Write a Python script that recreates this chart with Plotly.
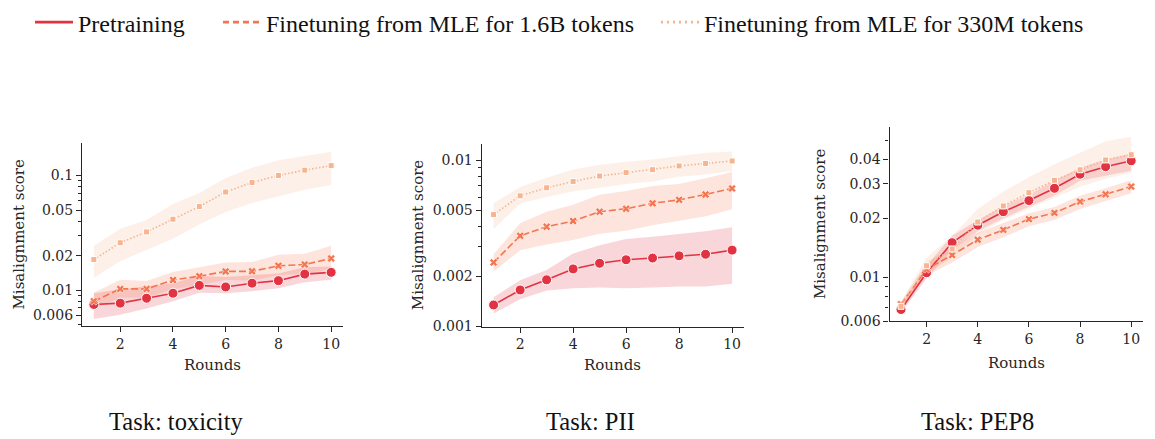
import plotly.graph_objects as go

rounds = [1, 2, 3, 4, 5, 6, 7, 8, 9, 10]
series_names = ["Pretraining", "Finetuning from MLE for 1.6B tokens", "Finetuning from MLE for 330M tokens"]
tasks = ["Task: toxicity", "Task: PII", "Task: PEP8"]

# ---- Task: toxicity ----
tox_pre = [0.0075, 0.0077, 0.0085, 0.0094, 0.0110, 0.01066, 0.0115, 0.0121, 0.0138, 0.0143]
tox_pre_hi = [0.0094, 0.0102, 0.0108, 0.0115, 0.0133, 0.0130, 0.0135, 0.0140, 0.0158, 0.0161]
tox_pre_lo = [0.0056, 0.0061, 0.0069, 0.0080, 0.0095, 0.0094, 0.0098, 0.0104, 0.0117, 0.0123]
tox_16b = [0.0080, 0.01025, 0.01025, 0.01226, 0.01324, 0.01456, 0.0146, 0.0163, 0.01675, 0.0189]
tox_16b_hi = [0.0095, 0.0123, 0.0120, 0.0144, 0.0158, 0.0174, 0.0176, 0.0204, 0.0208, 0.0244]
tox_16b_lo = [0.0069, 0.0086, 0.0086, 0.0102, 0.0111, 0.0123, 0.0121, 0.0135, 0.0140, 0.0153]
tox_330m = [0.0185, 0.0259, 0.0322, 0.0416, 0.0536, 0.0718, 0.0869, 0.100, 0.1114, 0.1219]
tox_330m_hi = [0.0244, 0.0343, 0.0410, 0.0564, 0.0705, 0.095, 0.117, 0.136, 0.148, 0.161]
tox_330m_lo = [0.0128, 0.0179, 0.0224, 0.0281, 0.0373, 0.0481, 0.0575, 0.066, 0.0751, 0.0826]

# ---- Task: PII ----
pii_pre = [0.00134, 0.00165, 0.00190, 0.00221, 0.00239, 0.00251, 0.00257, 0.00265, 0.00271, 0.00287]
pii_pre_hi = [0.00149, 0.00189, 0.00218, 0.00274, 0.00307, 0.00335, 0.00346, 0.00360, 0.00373, 0.00394]
pii_pre_lo = [0.00119, 0.00145, 0.00164, 0.00169, 0.00171, 0.00169, 0.00171, 0.00173, 0.00173, 0.00180]
pii_16b = [0.00242, 0.00350, 0.00397, 0.00430, 0.00489, 0.00510, 0.00550, 0.00577, 0.00622, 0.00676]
pii_16b_hi = [0.00271, 0.00417, 0.00489, 0.00539, 0.00620, 0.00653, 0.00700, 0.00719, 0.00778, 0.00850]
pii_16b_lo = [0.00213, 0.00286, 0.00310, 0.00330, 0.00360, 0.00375, 0.00406, 0.00430, 0.00460, 0.00506]
pii_330m = [0.00470, 0.00610, 0.00682, 0.00745, 0.00803, 0.00843, 0.00877, 0.00924, 0.00957, 0.00990]
pii_330m_hi = [0.00550, 0.00690, 0.00785, 0.00880, 0.00940, 0.00980, 0.01010, 0.01060, 0.01110, 0.01130]
pii_330m_lo = [0.00385, 0.00548, 0.00600, 0.00647, 0.00682, 0.00720, 0.00745, 0.00796, 0.00820, 0.00860]

# ---- Task: PEP8 ----
pep_pre = [0.00687, 0.01057, 0.01503, 0.01844, 0.0216, 0.0246, 0.0284, 0.0335, 0.0366, 0.0392]
pep_pre_hi = [0.0072, 0.0115, 0.0163, 0.0196, 0.0230, 0.0264, 0.0310, 0.0362, 0.0397, 0.0428]
pep_pre_lo = [0.0066, 0.0099, 0.0138, 0.0172, 0.0200, 0.0228, 0.0261, 0.0310, 0.0329, 0.0349]
pep_16b = [0.0073, 0.0110, 0.0130, 0.01555, 0.01746, 0.0198, 0.0213, 0.0243, 0.0265, 0.0290]
pep_16b_hi = [0.0075, 0.0119, 0.0143, 0.0169, 0.0189, 0.0212, 0.0228, 0.0260, 0.0284, 0.0312]
pep_16b_lo = [0.0070, 0.0102, 0.0119, 0.0143, 0.0160, 0.0182, 0.0196, 0.0223, 0.0245, 0.0268]
pep_330m = [0.00713, 0.01147, 0.01396, 0.01914, 0.0231, 0.0270, 0.0312, 0.0353, 0.0396, 0.0421]
pep_330m_hi = [0.0075, 0.0126, 0.0163, 0.0223, 0.0274, 0.0323, 0.0376, 0.0431, 0.0493, 0.0519]
pep_330m_lo = [0.0068, 0.0104, 0.0126, 0.0166, 0.0196, 0.0223, 0.0254, 0.0289, 0.0318, 0.0341]

x_tickvals = [2, 4, 6, 8, 10]
y_tickvals = [
    [0.006, 0.01, 0.02, 0.05, 0.1],
    [0.001, 0.002, 0.005, 0.01],
    [0.006, 0.01, 0.02, 0.03, 0.04],
]
y_ticktext = [
    ["0.006", "0.01", "0.02", "0.05", "0.1"],
    ["0.001", "0.002", "0.005", "0.01"],
    ["0.006", "0.01", "0.02", "0.03", "0.04"],
]
y_minor = [
    [0.005, 0.007, 0.008, 0.009, 0.03, 0.04, 0.06, 0.07, 0.08, 0.09],
    [0.003, 0.004, 0.006, 0.007, 0.008, 0.009],
    [0.007, 0.008, 0.009, 0.05],
]

colors = ["#e13342", "#f37651", "#f6b48f"]
fills = ["rgba(225,51,66,0.2)", "rgba(243,118,81,0.2)", "rgba(246,180,143,0.2)"]
dashes = ["solid", "7px,3px", "1.5px,2px"]
symbols = ["circle", "x", "square"]
msizes = [10, 7, 6]

data = [
    [(tox_pre, tox_pre_lo, tox_pre_hi), (tox_16b, tox_16b_lo, tox_16b_hi), (tox_330m, tox_330m_lo, tox_330m_hi)],
    [(pii_pre, pii_pre_lo, pii_pre_hi), (pii_16b, pii_16b_lo, pii_16b_hi), (pii_330m, pii_330m_lo, pii_330m_hi)],
    [(pep_pre, pep_pre_lo, pep_pre_hi), (pep_16b, pep_16b_lo, pep_16b_hi), (pep_330m, pep_330m_lo, pep_330m_hi)],
]

W, H = 1155, 439
x_domains = [[82 / W, 343 / W], [481.7 / W, 744 / W], [889.5 / W, 1142.7 / W]]
y_domains = [[1 - 328.3 / H, 1 - 136 / H], [1 - 329 / H, 1 - 136.7 / H], [1 - 323.3 / H, 1 - 119 / H]]
y_ranges = [[-2.3115, -0.718], [-3.003, -1.901], [-2.222, -1.235]]

fig = go.Figure()
for p in range(3):
    xa = "x" if p == 0 else f"x{p + 1}"
    ya = "y" if p == 0 else f"y{p + 1}"
    for s in range(3):
        mean, lo, hi = data[p][s]
        fig.add_trace(go.Scatter(x=rounds, y=lo, mode="lines", line=dict(width=0, color=colors[s]),
                                 xaxis=xa, yaxis=ya, showlegend=False, hoverinfo="skip"))
        fig.add_trace(go.Scatter(x=rounds, y=hi, mode="lines", line=dict(width=0, color=colors[s]),
                                 fill="tonexty", fillcolor=fills[s],
                                 xaxis=xa, yaxis=ya, showlegend=False, hoverinfo="skip"))
    for s in range(3):
        mean, lo, hi = data[p][s]
        fig.add_trace(go.Scatter(
            x=rounds, y=mean, mode="lines+markers", name=series_names[s],
            line=dict(color=colors[s], width=1.6, dash=dashes[s]),
            marker=dict(symbol=symbols[s], size=msizes[s], color=colors[s],
                        line=dict(color="white", width=1 if s != 1 else 0.6)),
            xaxis=xa, yaxis=ya, showlegend=False))

legend_names = ["legend", "legend2", "legend3"]
for s in range(3):
    fig.add_trace(go.Scatter(x=[None], y=[None], mode="lines", name=series_names[s],
                             line=dict(color=colors[s], width=2.6, dash=["solid", "6px,4px", "2px,4px"][s]),
                             legend=legend_names[s], showlegend=True))

axis_color = "#262626"
tick_font = dict(family="DejaVu Serif", size=14, color=axis_color)
layout = dict(
    width=W, height=H,
    margin=dict(l=0, r=0, t=0, b=0),
    paper_bgcolor="white", plot_bgcolor="white",
    showlegend=True,
)
legend_x = [30 / W, 218 / W, 656 / W]
for s in range(3):
    layout[legend_names[s]] = dict(
        x=legend_x[s], y=1 - 9 / H, xanchor="left", yanchor="middle",
        orientation="h", bgcolor="rgba(0,0,0,0)", borderwidth=0,
        font=dict(family="Liberation Serif", size=24, color="#111111"),
        itemwidth=38,
    )
for p in range(3):
    xk = "xaxis" if p == 0 else f"xaxis{p + 1}"
    yk = "yaxis" if p == 0 else f"yaxis{p + 1}"
    ya = "y" if p == 0 else f"y{p + 1}"
    xa = "x" if p == 0 else f"x{p + 1}"
    layout[xk] = dict(
        domain=x_domains[p], anchor=ya, range=[0.55, 10.45],
        tickvals=x_tickvals, ticks="outside", ticklen=5, tickwidth=1.2, tickcolor=axis_color,
        showline=True, linecolor=axis_color, linewidth=1.3, showgrid=False, zeroline=False,
        tickfont=tick_font,
    )
    layout[yk] = dict(
        domain=y_domains[p], anchor=xa, type="log", range=y_ranges[p],
        tickvals=y_tickvals[p], ticktext=y_ticktext[p],
        ticks="outside", ticklen=5, tickwidth=1.2, tickcolor=axis_color,
        minor=dict(tickvals=y_minor[p], ticks="outside", ticklen=3, tickwidth=1, tickcolor=axis_color, showgrid=False),
        showline=True, linecolor=axis_color, linewidth=1.3, showgrid=False, zeroline=False,
        tickfont=tick_font,
    )
fig.update_layout(**layout)

label_font = dict(family="DejaVu Serif", size=15, color=axis_color)
ylabel_x = [19, 418, 820]
xlabel_y = [369, 369, 367]
caption_x = [176, 591, 978]
for p in range(3):
    ymid = 1 - ((1 - y_domains[p][1]) + (1 - y_domains[p][0])) / 2
    fig.add_annotation(text="Misalignment score", x=ylabel_x[p] / W, y=ymid, xref="paper", yref="paper",
                       textangle=-90, showarrow=False, font=label_font, xanchor="center", yanchor="middle")
    fig.add_annotation(text="Rounds", x=(x_domains[p][0] + x_domains[p][1]) / 2, y=1 - xlabel_y[p] / H,
                       xref="paper", yref="paper", showarrow=False, font=label_font,
                       xanchor="center", yanchor="middle")
    fig.add_annotation(text=tasks[p], x=caption_x[p] / W, y=1 - 429 / H, xref="paper", yref="paper",
                       showarrow=False, font=dict(family="Liberation Serif", size=24.5, color="#111111"),
                       xanchor="center", yanchor="middle")

fig.write_html("out.html", config={"displayModeBar": False},
               post_script="document.body.style.margin='0';")
